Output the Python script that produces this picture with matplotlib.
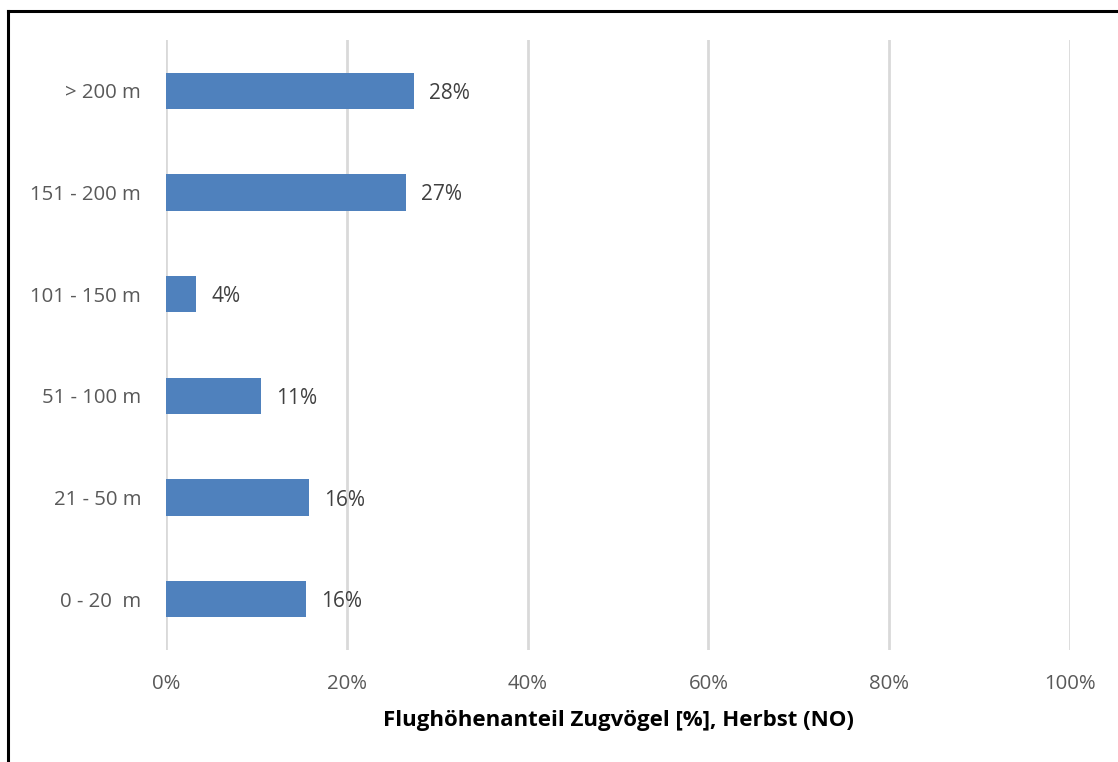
import matplotlib.pyplot as plt
from matplotlib.lines import Line2D

plt.rcParams['font.family'] = ['Open Sans', 'DejaVu Sans']

# categories from bottom to top
hoehen = ['0 - 20  m', '21 - 50 m', '51 - 100 m', '101 - 150 m', '151 - 200 m', '> 200 m']
anteil = [15.5, 15.8, 10.5, 3.3, 26.5, 27.4]
beschriftung = ['16%', '16%', '11%', '4%', '27%', '28%']
xticks = [0, 20, 40, 60, 80, 100]
xticklabels = ['0%', '20%', '40%', '60%', '80%', '100%']

fig = plt.figure(figsize=[11.18, 7.62], dpi=100)
ax = fig.add_axes([166 / 1118, 1 - 650 / 762, (1070 - 166) / 1118, 610 / 762])

ax.barh(range(len(hoehen)), anteil, height=0.355, color='#4f81bd', zorder=3)
for i, (v, t) in enumerate(zip(anteil, beschriftung)):
    ax.text(v + 1.7, i, t, va='center_baseline', ha='left', fontsize=15, color='#404040')

ax.set_xlim(0, 100)
ax.set_ylim(-0.5, len(hoehen) - 0.5)
ax.set_xticks(xticks)
ax.set_xticklabels(xticklabels)
ax.set_yticks(range(len(hoehen)))
ax.set_yticklabels(hoehen)
ax.tick_params(axis='both', length=0, labelsize=14.7, labelcolor='#595959')
ax.tick_params(axis='y', pad=18)
ax.tick_params(axis='x', pad=17)
ax.grid(axis='x', color='#d9d9d9', linewidth=2, zorder=0)
for s in ax.spines.values():
    s.set_visible(False)

ax.set_xlabel('Flughöhenanteil Zugvögel [%], Herbst (NO)', fontsize=16, fontweight='bold',
              color='#000000', labelpad=12)

# frame lines (left and top)
fig.add_artist(Line2D([8 / 1118, 8 / 1118], [0, 1 - 11 / 762], transform=fig.transFigure,
                      color='black', linewidth=2.2))
fig.add_artist(Line2D([8 / 1118, 1], [1 - 11 / 762, 1 - 11 / 762], transform=fig.transFigure,
                      color='black', linewidth=2.2))

fig.savefig('out.png', dpi=100)
